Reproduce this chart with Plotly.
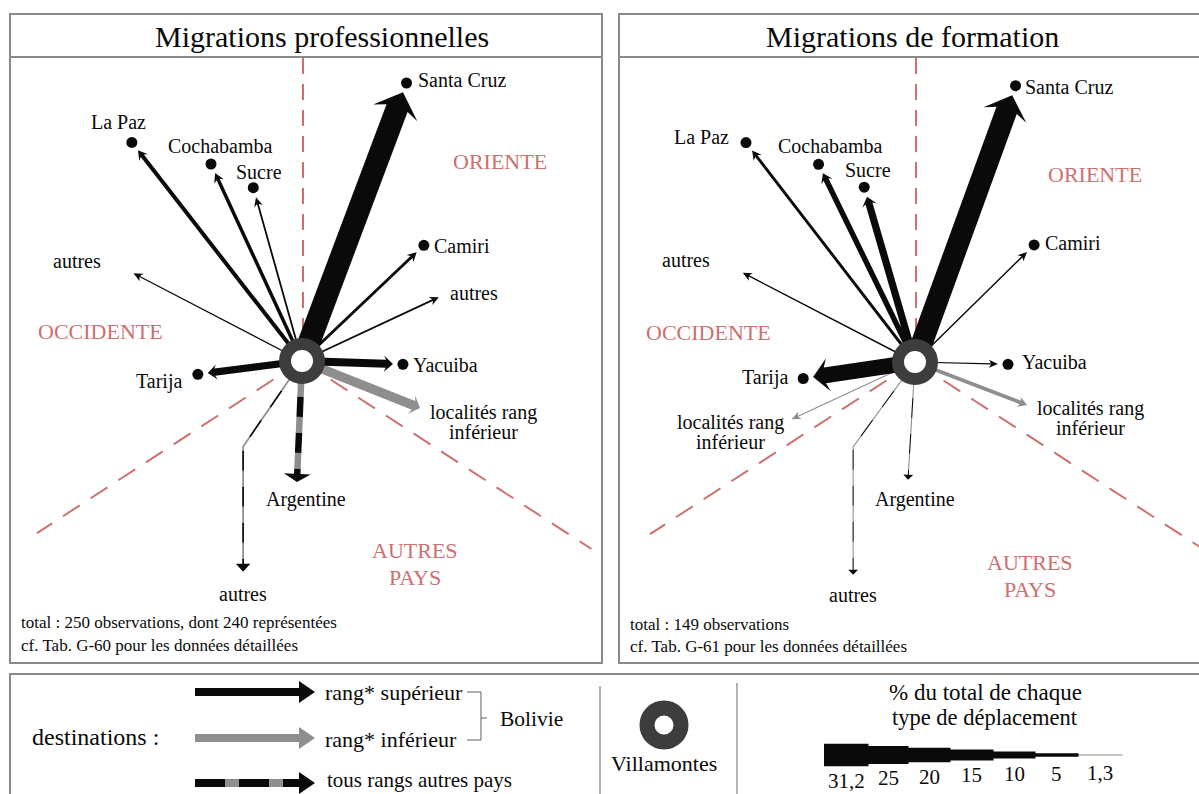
import math
import plotly.graph_objects as go

W, H = 1199, 794

# ---------------- data ----------------
# Migrations professionnelles (angle in degrees, counter-clockwise from east; dist = map distance)
pro_dest  = ["Santa Cruz", "La Paz", "Cochabamba", "Sucre", "autres", "Camiri", "autres",
             "Yacuiba", "Tarija", "localités rang\ninférieur", "Argentine", "autres"]
pro_type  = ["sup", "sup", "sup", "sup", "sup", "sup", "sup", "sup", "sup", "inf", "ext", "ext"]
pro_pct   = [31.2, 5.5, 4.8, 2.5, 1.8, 4.0, 2.4, 11.0, 10.0, 13.0, 9.0, 2.4]
pro_angle = [69.4, 127.9, 114.8, 105.7, 152.5, 43.5, 25.0, -1.9, 187.3, -21.7, 267.6, 235.5]
pro_dist  = [287, 267, 207, 170, 190, 158, 151, 91, 95, 127, 121, 104]
pro_leg2  = [0, 0, 0, 0, 0, 0, 0, 0, 0, 0, 0, 125]
pro_dot   = [1, 1, 1, 1, 0, 1, 0, 1, 1, 0, 0, 0]

# Migrations de formation
for_dest  = ["Santa Cruz", "La Paz", "Cochabamba", "Sucre", "autres", "Camiri", "Yacuiba",
             "Tarija", "localités rang\ninférieur", "localités rang\ninférieur", "Argentine", "autres"]
for_type  = ["sup", "sup", "sup", "sup", "sup", "sup", "sup", "sup", "inf", "inf", "ext", "ext"]
for_pct   = [30.0, 4.0, 7.5, 10.0, 2.0, 2.0, 1.5, 22.0, 1.5, 5.0, 1.5, 1.5]
for_angle = [70.0, 127.6, 116.0, 106.2, 152.6, 44.5, -1.4, 188.4, 204.9, -21.0, 266.6, 233.9]
for_dist  = [284, 267, 210, 172, 194, 157, 83, 103, 136, 120, 118, 105]
for_leg2  = [0, 0, 0, 0, 0, 0, 0, 0, 0, 0, 0, 128]
for_dot   = [1, 1, 1, 1, 0, 1, 1, 1, 0, 0, 0, 0]

titles = ["Migrations professionnelles", "Migrations de formation"]
notes_pro = ["total : 250 observations, dont 240 représentées",
             "cf. Tab. G-60 pour les données détaillées"]
notes_for = ["total : 149 observations",
             "cf. Tab. G-61 pour les données détaillées"]
regions = ["ORIENTE", "OCCIDENTE", "AUTRES\nPAYS"]

legend_items = ["rang* supérieur", "rang* inférieur", "tous rangs autres pays"]
scale_vals = [31.2, 25, 20, 15, 10, 5, 1.3]
scale_labels = ["31,2", "25", "20", "15", "10", "5", "1,3"]

# ---------------- styling / layout ----------------
PX_PER_PCT = 0.72
BLACK = "#0a0a0a"
GRAY = "#8e8e8e"
RING = "#3d3d3d"
RED = "#cd7070"
BOX = "#8a8a8a"
FONT = "Liberation Serif, Times New Roman, serif"

centers = [(302, 361), (915, 362)]
# label positions per panel (x, y, xanchor)
pro_lab = [(416, 80, "left"), (118, 122, "center"), (220, 146, "center"), (259, 172, "center"),
           (77, 261, "center"), (432, 246, "left"), (474, 293, "center"), (411, 365, "left"),
           (184, 381, "right"), (483, 422, "center"), (306, 499, "center"), (243, 594, "center")]
for_lab = [(1023, 87, "left"), (731, 137, "right"), (830, 146, "center"), (868, 170, "center"),
           (686, 260, "center"), (1043, 243, "left"), (1020, 362, "left"), (790, 377, "right"),
           (730, 432, "center"), (1090, 418, "center"), (915, 499, "center"), (853, 595, "center")]
region_pos = [[(500, 161), (100, 331), (415, 564)], [(1095, 174), (708, 332), (1030, 576)]]

fig = go.Figure()

polys = {BLACK: ([], []), GRAY: ([], [])}


def add_poly(color, pts):
    xs, ys = polys[color]
    for x, y in pts:
        xs.append(x)
        ys.append(y)
    xs.append(pts[0][0])
    ys.append(pts[0][1])
    xs.append(None)
    ys.append(None)


def frame(cx, cy, ang):
    a = math.radians(ang)
    ux, uy = math.cos(a), -math.sin(a)
    nx, ny = -uy, ux

    def P(s, t):
        return (cx + ux * s + nx * t, cy + uy * s + ny * t)
    return P


def solid_arrow(cx, cy, ang, dist, w, color, hw=None, hl=None, notch_f=0.3):
    if hw is None:
        hw = w / 2 + max(3.5, 0.55 * w)
    if hl is None:
        hl = max(7, 0.75 * w)
    P = frame(cx, cy, ang)
    base = dist - hl
    notch = notch_f * hl
    add_poly(color, [P(0, w / 2), P(base, w / 2), P(base - notch, hw), P(dist, 0),
                     P(base - notch, -hw), P(base, -w / 2), P(0, -w / 2)])


def segmented_arrow(cx, cy, legs, w, pattern, hw, hl):
    # legs: list of (angle, length); pattern: list of (color, length)
    starts = []
    x0, y0 = cx, cy
    g = 0
    for ang, L in legs:
        starts.append((x0, y0, ang, g, L))
        P = frame(x0, y0, ang)
        x0, y0 = P(L, 0)
        g += L
    total_shaft = g - hl
    pos, k = 0.0, 0
    while pos < total_shaft:
        col, ln = pattern[k % len(pattern)]
        s0, s1 = pos, min(pos + ln, total_shaft)
        for (lx, ly, ang, g0, L) in starts:
            a0, a1 = max(s0, g0), min(s1, g0 + L)
            if a1 > a0:
                P = frame(lx, ly, ang)
                e = 0.5 if a1 >= g0 + L - 1e-6 and a1 < total_shaft else 0
                add_poly(col, [P(a0 - g0, w / 2), P(a1 - g0 + e, w / 2),
                               P(a1 - g0 + e, -w / 2), P(a0 - g0, -w / 2)])
        pos = s1
        k += 1
    lx, ly, ang, g0, L = starts[-1]
    P = frame(lx, ly, ang)
    add_poly(BLACK, [P(L - hl, hw), P(L, 0), P(L - hl, -hw)])


AP_PATTERN = [(BLACK, 20), (GRAY, 16)]

# ---------------- panel boxes ----------------
for (x0, x1) in [(10, 602), (619, 1215)]:
    fig.add_shape(type="rect", xref="x", yref="y", x0=x0, x1=x1, y0=14, y1=663,
                  line=dict(color=BOX, width=2), layer="below")
    fig.add_shape(type="line", xref="x", yref="y", x0=x0, x1=x1, y0=57, y1=57,
                  line=dict(color=BOX, width=2), layer="below")
fig.add_shape(type="rect", xref="x", yref="y", x0=10, x1=1215, y0=674, y1=820,
              line=dict(color=BOX, width=2), layer="below")
for (xd, yd) in [(600, 686), (737, 683)]:
    fig.add_shape(type="line", xref="x", yref="y", x0=xd, x1=xd, y0=yd, y1=800,
                  line=dict(color="#9a9a9a", width=1.5), layer="below")

# ---------------- dashed region separators ----------------
for (cx, cy) in centers:
    fig.add_trace(go.Scatter(x=[cx + 1, cx + 1], y=[58, cy - 24], mode="lines",
                             line=dict(color=RED, width=2, dash="16px,10px"), hoverinfo="skip"))
    for ang, L in [(213, 316), (327, 345)]:
        P = frame(cx, cy, ang)
        (xa, ya), (xb, yb) = P(34, 0), P(L, 0)
        fig.add_trace(go.Scatter(x=[xa, xb], y=[ya, yb], mode="lines",
                                 line=dict(color=RED, width=2, dash="20px,13px"), hoverinfo="skip"))

# ---------------- flows ----------------
panels = [
    (pro_dest, pro_type, pro_pct, pro_angle, pro_dist, pro_leg2, pro_dot, pro_lab),
    (for_dest, for_type, for_pct, for_angle, for_dist, for_leg2, for_dot, for_lab),
]
dots_x, dots_y = [], []
for pi, (dest, typ, pct, ang, dist, leg2, dot, lab) in enumerate(panels):
    cx, cy = centers[pi]
    for i in range(len(dest)):
        w = pct[i] * PX_PER_PCT
        if typ[i] == "ext":
            legs = [(ang[i], dist[i])]
            if leg2[i] > 0:
                legs.append((270, leg2[i]))
            hw = (5 + 1.3 * w) if pi == 0 else (3.5 + 1.3 * w)
            hl = 8 if pi == 0 else 5
            segmented_arrow(cx, cy, legs, w, AP_PATTERN, hw, hl)
        else:
            solid_arrow(cx, cy, ang[i], dist[i], w, BLACK if typ[i] == "sup" else GRAY)
        if dot[i]:
            P = frame(cx, cy, ang[i])
            dx, dy = P(dist[i] + 10, 0)
            dots_x.append(dx)
            dots_y.append(dy)
        lx, ly, anc = lab[i]
        lines = dest[i].split("\n")
        for j, line in enumerate(lines):
            yy = ly + (j - (len(lines) - 1) / 2) * 19
            fig.add_annotation(x=lx, y=yy, xref="x", yref="y", text=line, showarrow=False,
                               xanchor=anc, yanchor="middle",
                               font=dict(family=FONT, size=20, color=BLACK))

# ---------------- legend marks ----------------
leg_y = [692, 738, 783]
solid_arrow(195, leg_y[0], 0, 120, 8, BLACK, hw=11, hl=16, notch_f=0)
solid_arrow(195, leg_y[1], 0, 120, 8, GRAY, hw=11, hl=16, notch_f=0)
segmented_arrow(195, leg_y[2], [(0, 120)], 8, [(BLACK, 30), (GRAY, 14)], 11, 16)

# scale wedge
edges = [824, 868, 908, 950, 993, 1035, 1078, 1122]
label_y = [781, 778, 777, 775, 774, 774, 773]
for k, v in enumerate(scale_vals):
    h = v * PX_PER_PCT
    col = BLACK if k < len(scale_vals) - 1 else GRAY
    add_poly(col, [(edges[k], 755 - h / 2), (edges[k + 1] + 0.5, 755 - h / 2),
                   (edges[k + 1] + 0.5, 755 + h / 2), (edges[k], 755 + h / 2)])
    fig.add_annotation(x=(edges[k] + edges[k + 1]) / 2, y=label_y[k], xref="x", yref="y",
                       text=scale_labels[k], showarrow=False, xanchor="center", yanchor="middle",
                       font=dict(family=FONT, size=21, color=BLACK))

for col in [GRAY, BLACK]:
    xs, ys = polys[col]
    fig.add_trace(go.Scatter(x=xs, y=ys, mode="lines", fill="toself", fillcolor=col,
                             line=dict(width=0, color=col), hoverinfo="skip"))

# bracket
for (xa, ya, xb, yb) in [(467, 692, 481, 692), (467, 740, 481, 740), (481, 692, 481, 740),
                         (481, 718, 487, 718)]:
    fig.add_shape(type="line", xref="x", yref="y", x0=xa, y0=ya, x1=xb, y1=yb,
                  line=dict(color="#777777", width=1.2))

# rings (Villamontes)
ring_x = [c[0] for c in centers]
ring_y = [c[1] for c in centers]
fig.add_trace(go.Scatter(x=ring_x, y=ring_y, mode="markers", hoverinfo="skip",
                         marker=dict(size=34, color="white", line=dict(color=RING, width=12))))
fig.add_trace(go.Scatter(x=[664], y=[725], mode="markers", hoverinfo="skip",
                         marker=dict(size=34, color="white", line=dict(color=RING, width=15))))
# destination dots
fig.add_trace(go.Scatter(x=dots_x, y=dots_y, mode="markers", hoverinfo="skip",
                         marker=dict(size=11, color=BLACK)))

# ---------------- texts ----------------
def txt(x, y, s, size=19, color=BLACK, anchor="center"):
    fig.add_annotation(x=x, y=y, xref="x", yref="y", text=s, showarrow=False,
                       xanchor=anchor, yanchor="middle",
                       font=dict(family=FONT, size=size, color=color))

txt(322, 36, titles[0], size=30)
txt(912, 36, titles[1], size=30)
for pi, notes in enumerate([notes_pro, notes_for]):
    x0 = 19 if pi == 0 else 628
    txt(x0, 622 + (2 if pi else 0), notes[0], size=17, anchor="left")
    txt(x0, 645 + (1 if pi else 0), notes[1], size=17, anchor="left")
    for r, (rx, ry) in zip(regions, region_pos[pi]):
        lines = r.split("\n")
        for j, line in enumerate(lines):
            txt(rx, ry + (j - (len(lines) - 1) / 2) * 27, line, size=22, color=RED)

txt(30, 737, "destinations :", size=24, anchor="left")
txt(323, leg_y[0], legend_items[0], size=22, anchor="left")
txt(323, leg_y[1] + 1, legend_items[1], size=22, anchor="left")
txt(325, leg_y[2] - 3, legend_items[2], size=21, anchor="left")
txt(498, 719, "Bolivie", size=21.5, anchor="left")
txt(664, 763, "Villamontes", size=22)
txt(985, 692, "% du total de chaque", size=23)
txt(985, 717, "type de déplacement", size=22.5)

fig.update_layout(
    width=W, height=H, autosize=False,
    margin=dict(l=0, r=0, t=0, b=0),
    paper_bgcolor="white", plot_bgcolor="white",
    showlegend=False, hovermode=False,
    xaxis=dict(range=[0, W], visible=False, fixedrange=True),
    yaxis=dict(range=[H, 0], visible=False, fixedrange=True),
)

fig.write_html("out.html", config={"displayModeBar": False, "staticPlot": True},
               post_script="document.body.style.margin='0';")
